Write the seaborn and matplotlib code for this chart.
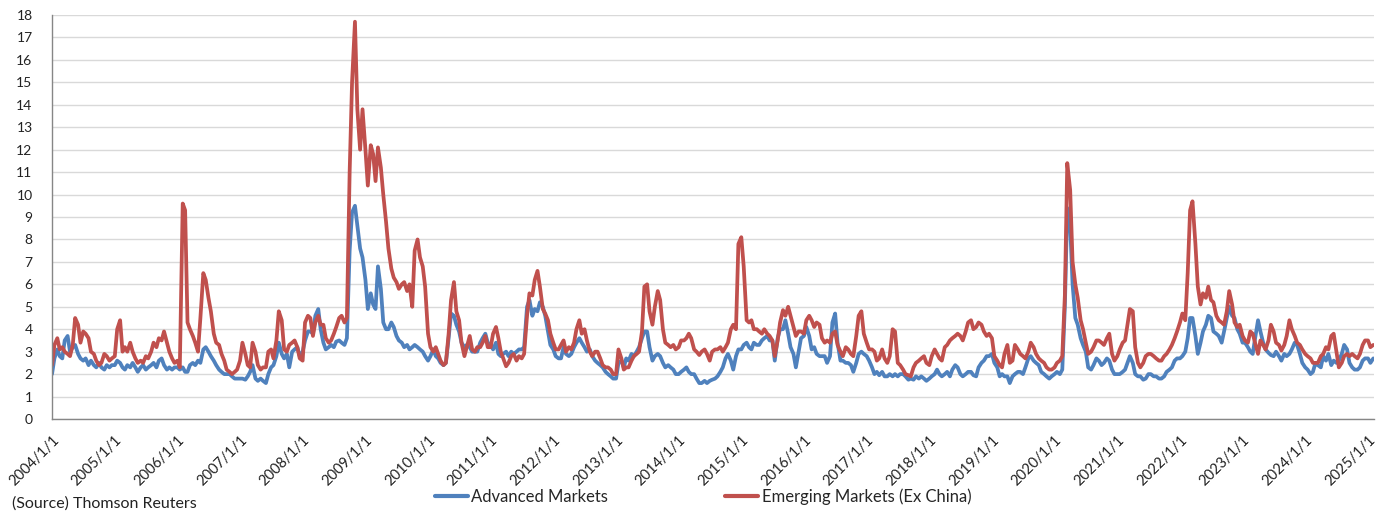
import matplotlib
matplotlib.use("Agg")
import matplotlib.pyplot as plt
import matplotlib.dates as mdates
from matplotlib.lines import Line2D
import seaborn as sns
import pandas as pd

# values, two per month (1st and 15th), 2004/1 - 2025/2
advanced = [
    2.0, 2.7, 3.1, 2.8, 2.7, 3.5, 3.7, 3.0, 3.2, 3.3, 2.9, 2.7, 2.6, 2.7, 2.4, 2.6, 2.4, 2.3, 2.5, 2.3, 2.2, 2.4, 2.3, 2.4,  # 2004
    2.4, 2.6, 2.5, 2.3, 2.2, 2.4, 2.3, 2.5, 2.3, 2.1, 2.3, 2.4, 2.2, 2.3, 2.4, 2.5, 2.3, 2.6, 2.7, 2.4, 2.2, 2.3, 2.2, 2.3,  # 2005
    2.3, 2.2, 2.3, 2.1, 2.1, 2.4, 2.5, 2.4, 2.6, 2.5, 3.1, 3.2, 3.0, 2.8, 2.6, 2.4, 2.2, 2.1, 2.0, 2.0, 2.0, 1.9, 1.8, 1.8,  # 2006
    1.8, 1.8, 1.75, 1.9, 2.1, 2.4, 1.8, 1.7, 1.8, 1.7, 1.6, 2.0, 2.3, 2.4, 2.8, 3.4, 2.9, 2.7, 2.9, 2.3, 3.0, 3.1, 3.2, 2.8,  # 2007
    3.0, 3.5, 3.9, 3.9, 3.8, 4.6, 4.9, 4.0, 3.4, 3.1, 3.2, 3.3, 3.2, 3.45, 3.5, 3.4, 3.3, 3.6, 7.5, 9.2, 9.5, 8.6, 7.6, 7.2,  # 2008
    6.2, 4.9, 5.6, 5.1, 4.9, 6.8, 5.8, 4.3, 4.0, 4.0, 4.3, 4.1, 3.7, 3.5, 3.4, 3.2, 3.3, 3.1, 3.2, 3.3, 3.2, 3.1, 3.0, 2.8,  # 2009
    2.6, 2.8, 3.1, 2.8, 2.7, 2.5, 2.4, 2.5, 3.6, 4.7, 4.6, 4.2, 3.9, 3.4, 3.2, 3.3, 3.2, 3.0, 3.0, 3.0, 3.4, 3.6, 3.8, 3.4,  # 2010
    3.3, 3.1, 3.4, 2.9, 2.8, 2.9, 3.0, 2.8, 3.0, 2.9, 3.0, 3.1, 3.1, 3.2, 5.0, 5.3, 4.6, 4.9, 4.8, 5.2, 5.0, 4.6, 3.9, 3.3,  # 2011
    3.1, 2.8, 2.7, 2.7, 3.2, 2.9, 2.8, 2.9, 3.2, 3.4, 3.6, 3.4, 3.2, 3.0, 3.1, 2.8, 2.6, 2.5, 2.4, 2.3, 2.1, 2.0, 1.9, 1.8,  # 2012
    1.8, 2.5, 2.6, 2.3, 2.7, 2.6, 2.9, 2.8, 3.0, 3.2, 3.6, 3.9, 3.9, 3.2, 2.6, 2.8, 2.9, 2.8, 2.5, 2.3, 2.4, 2.3, 2.2, 2.0,  # 2013
    2.0, 2.1, 2.2, 2.3, 2.1, 2.0, 2.0, 1.8, 1.6, 1.6, 1.7, 1.6, 1.7, 1.75, 1.8, 1.9, 2.1, 2.3, 2.7, 2.9, 2.6, 2.2, 2.8, 3.1,  # 2014
    3.1, 3.3, 3.4, 3.2, 3.1, 3.4, 3.3, 3.3, 3.5, 3.6, 3.7, 3.5, 3.5, 2.6, 3.6, 4.0, 4.0, 4.4, 3.8, 3.2, 2.9, 2.3, 3.0, 3.6,  # 2015
    3.7, 4.1, 3.7, 3.1, 3.2, 2.9, 2.8, 2.8, 2.8, 2.5, 2.8, 4.3, 4.7, 3.4, 2.6, 2.6, 2.5, 2.5, 2.4, 2.1, 2.5, 2.9, 3.0, 2.9,  # 2016
    2.8, 2.6, 2.3, 2.0, 2.1, 1.95, 2.1, 1.9, 1.9, 2.0, 1.9, 2.0, 1.9, 2.0, 2.0, 1.9, 1.75, 1.8, 1.75, 1.9, 1.8, 1.9, 1.8, 1.7,  # 2017
    1.8, 1.9, 2.0, 2.2, 2.0, 1.9, 2.0, 2.1, 1.9, 2.2, 2.4, 2.3, 2.0, 1.9, 2.0, 2.1, 2.1, 1.95, 1.9, 2.3, 2.5, 2.6, 2.8, 2.8,  # 2018
    2.9, 2.5, 2.3, 1.9, 2.0, 1.9, 1.9, 1.6, 1.9, 2.0, 2.1, 2.1, 2.0, 2.3, 2.7, 2.8, 2.6, 2.5, 2.4, 2.1, 2.0, 1.9, 1.8, 1.9,  # 2019
    2.0, 2.1, 2.0, 2.2, 5.0, 9.4, 8.6, 6.0, 4.5, 4.2, 3.6, 3.3, 3.0, 2.3, 2.2, 2.4, 2.7, 2.6, 2.4, 2.5, 2.7, 2.6, 2.2, 2.0,  # 2020
    2.0, 2.0, 2.1, 2.2, 2.5, 2.8, 2.5, 2.0, 1.9, 1.9, 1.75, 1.8, 2.0, 2.0, 1.9, 1.9, 1.8, 1.8, 1.9, 2.1, 2.2, 2.3, 2.6, 2.7,  # 2021
    2.7, 2.8, 3.0, 3.6, 4.5, 4.5, 3.7, 2.9, 3.4, 3.9, 4.2, 4.6, 4.5, 3.9, 3.8, 3.7, 3.4, 3.9, 4.5, 5.0, 4.6, 4.5, 4.0, 3.8,  # 2022
    3.4, 3.4, 3.2, 3.0, 2.9, 3.6, 4.4, 3.9, 3.4, 3.1, 2.95, 2.85, 2.8, 3.0, 2.8, 2.6, 2.9, 2.8, 2.9, 3.1, 3.4, 3.3, 2.9, 2.5,  # 2023
    2.3, 2.2, 2.0, 2.1, 2.5, 2.4, 2.3, 2.8, 2.6, 2.9, 2.4, 2.6, 2.5, 2.6, 2.9, 3.3, 3.1, 2.5, 2.3, 2.2, 2.2, 2.3, 2.6, 2.7,  # 2024
    2.7, 2.5, 2.7,  # 2025
]

emerging = [
    2.4, 3.3, 3.6, 3.1, 3.2, 3.0, 2.9, 2.8, 3.3, 4.5, 4.2, 3.4, 3.9, 3.8, 3.6, 3.0, 2.9, 2.6, 2.4, 2.5, 2.9, 2.8, 2.6, 2.7,  # 2004
    2.8, 4.0, 4.4, 3.0, 3.2, 3.0, 3.4, 3.0, 2.7, 2.5, 2.6, 2.5, 2.8, 2.7, 3.0, 3.4, 3.2, 3.6, 3.5, 3.9, 3.4, 3.0, 2.7, 2.5,  # 2005
    2.6, 2.3, 9.6, 9.3, 4.3, 4.0, 3.7, 3.4, 3.0, 4.5, 6.5, 6.2, 5.4, 4.8, 3.8, 3.4, 3.3, 2.9, 2.6, 2.2, 2.1, 2.0, 2.1, 2.2,  # 2006
    2.6, 3.4, 2.9, 2.4, 2.3, 3.4, 3.0, 2.4, 2.2, 2.3, 2.3, 3.0, 3.1, 2.7, 3.5, 4.8, 4.4, 3.1, 3.0, 3.3, 3.4, 3.5, 3.2, 2.7,  # 2007
    2.6, 4.3, 4.6, 4.5, 3.7, 4.3, 4.6, 4.2, 4.2, 3.6, 3.4, 3.5, 3.8, 4.1, 4.5, 4.6, 4.3, 4.5, 11.0, 15.0, 17.7, 13.8, 12.0, 13.8,  # 2008
    12.0, 10.4, 12.2, 11.8, 10.6, 12.1, 11.2, 10.0, 8.8, 7.6, 6.7, 6.3, 6.1, 5.8, 6.0, 6.1, 5.7, 6.0, 5.0, 7.5, 8.0, 7.2, 6.8, 5.9,  # 2009
    3.8, 3.2, 3.0, 3.2, 2.9, 2.6, 2.4, 2.5, 3.8, 5.3, 6.1, 4.8, 4.4, 3.4, 2.8, 3.2, 3.7, 3.1, 3.0, 3.2, 3.2, 3.4, 3.7, 3.2,  # 2010
    3.2, 3.8, 4.1, 3.6, 3.0, 2.7, 2.35, 2.5, 2.8, 2.9, 2.6, 2.8, 2.7, 2.9, 4.6, 5.6, 5.5, 6.2, 6.6, 5.9, 4.9, 4.7, 4.4, 3.8,  # 2011
    3.4, 3.1, 3.1, 3.3, 3.5, 3.0, 3.2, 3.1, 3.4, 4.0, 4.4, 3.8, 4.0, 3.5, 3.0, 2.8, 3.0, 3.0, 2.7, 2.4, 2.3, 2.3, 2.2, 2.0,  # 2012
    2.0, 3.1, 2.7, 2.2, 2.3, 2.3, 2.6, 2.8, 2.9, 3.0, 3.9, 5.9, 6.0, 4.8, 4.2, 5.0, 5.7, 5.3, 4.0, 3.4, 3.3, 3.2, 3.3, 3.1,  # 2013
    3.2, 3.5, 3.5, 3.6, 3.8, 3.6, 3.1, 3.0, 2.85, 3.0, 3.1, 2.9, 2.6, 3.0, 3.1, 3.1, 3.2, 3.0, 3.2, 3.4, 4.0, 4.2, 4.0, 7.8,  # 2014
    8.1, 6.8, 4.4, 4.3, 4.4, 4.0, 4.0, 3.9, 3.8, 4.0, 3.8, 3.7, 3.5, 2.8, 3.5, 4.3, 4.85, 4.6, 5.0, 4.6, 4.1, 3.7, 3.9, 3.9,  # 2015
    3.8, 4.4, 4.6, 4.4, 4.1, 4.3, 4.2, 3.6, 3.4, 3.5, 3.4, 3.8, 3.9, 3.3, 3.0, 2.8, 3.2, 3.1, 2.9, 2.8, 3.7, 4.6, 4.8, 3.8,  # 2016
    3.4, 3.1, 3.1, 3.0, 2.6, 2.7, 3.1, 2.7, 2.5, 2.8, 4.0, 3.9, 2.5, 2.4, 2.2, 2.0, 1.95, 1.9, 2.3, 2.5, 2.6, 2.7, 2.8, 2.5,  # 2017
    2.4, 2.8, 3.1, 2.9, 2.7, 2.6, 3.2, 3.3, 3.5, 3.6, 3.7, 3.8, 3.7, 3.5, 3.9, 4.3, 4.4, 4.0, 4.1, 4.3, 4.2, 3.9, 3.7, 3.8,  # 2018
    3.6, 2.8, 2.6, 2.4, 2.3, 2.9, 3.3, 2.5, 2.6, 3.3, 3.1, 2.9, 2.8, 2.7, 3.0, 3.4, 3.2, 2.9, 2.7, 2.6, 2.5, 2.3, 2.2, 2.2,  # 2019
    2.3, 2.5, 2.6, 2.8, 5.5, 11.4, 10.2, 7.0, 6.0, 5.4, 4.4, 4.0, 3.4, 2.9, 3.0, 3.2, 3.5, 3.5, 3.4, 3.3, 3.6, 3.8, 2.9, 2.6,  # 2020
    2.8, 3.1, 3.4, 3.5, 4.2, 4.9, 4.8, 3.2, 2.5, 2.3, 2.5, 2.8, 2.9, 2.9, 2.8, 2.7, 2.6, 2.6, 2.8, 2.9, 3.1, 3.3, 3.6, 3.9,  # 2021
    4.3, 4.7, 4.4, 6.5, 9.3, 9.7, 7.8, 5.9, 5.1, 5.6, 5.4, 5.9, 5.3, 5.2, 4.6, 4.4, 4.3, 4.2, 4.8, 5.7, 5.1, 4.3, 4.1, 4.2,  # 2022
    3.7, 3.5, 3.4, 3.9, 3.8, 3.4, 2.9, 3.5, 3.3, 3.1, 3.5, 4.2, 3.9, 3.4, 3.3, 3.05, 3.3, 3.7, 4.4, 4.0, 3.7, 3.4, 3.3, 3.1,  # 2023
    2.9, 2.8, 2.7, 2.5, 2.5, 2.5, 2.8, 2.9, 3.2, 3.1, 3.7, 3.8, 3.0, 2.3, 2.5, 2.8, 2.9, 2.8, 2.9, 2.8, 2.7, 2.9, 3.3, 3.5,  # 2024
    3.5, 3.2, 3.3,  # 2025
]

series_names = ["Advanced Markets", "Emerging Markets (Ex China)"]
series_colors = ["#4F81BD", "#C0504D"]
y_ticks = list(range(0, 19))
source_note = "(Source) Thomson Reuters"

dates = pd.date_range("2004-01-01", periods=len(advanced), freq="SMS")
df = pd.DataFrame({"date": dates, series_names[0]: advanced, series_names[1]: emerging})
long_df = df.melt(id_vars="date", var_name="series", value_name="value")

sns.set_style("white")
plt.rcParams["font.family"] = ["Lato", "DejaVu Sans"]

W, H = 1386, 511
fig = plt.figure(figsize=(W / 100, H / 100), dpi=100)
ax = fig.add_axes([52 / W, 1 - 419 / H, (1374 - 52) / W, (419 - 15) / H])

sns.lineplot(data=long_df, x="date", y="value", hue="series", hue_order=series_names,
             palette=series_colors, linewidth=2.7, ax=ax, legend=False)

ax.set_xlim(pd.Timestamp("2004-01-01"), pd.Timestamp("2025-02-05"))
ax.set_ylim(0, 18)
ax.set_yticks(y_ticks)
ax.yaxis.grid(True, color="#D9D9D9", linewidth=1.0)
ax.xaxis.grid(False)
ax.set_axisbelow(True)
ax.set_xlabel("")
ax.set_ylabel("")

for side in ["top", "right"]:
    ax.spines[side].set_visible(False)
for side in ["left", "bottom"]:
    ax.spines[side].set_color("#868686")
    ax.spines[side].set_linewidth(1.0)

ax.xaxis.set_major_locator(mdates.YearLocator())
ax.xaxis.set_major_formatter(
    plt.FuncFormatter(lambda v, pos: f"{mdates.num2date(v).year}/1/1"))
ax.tick_params(axis="y", length=5, color="#868686", pad=9, labelsize=10, labelcolor="#222222")
ax.tick_params(axis="x", length=6, color="#868686", pad=4, labelsize=10.5, labelcolor="#222222")
for lab in ax.get_xticklabels():
    lab.set_rotation(45)
    lab.set_ha("right")
    lab.set_va("top")
    lab.set_rotation_mode("anchor")

handles = [Line2D([0], [0], color=c, linewidth=3) for c in series_colors]
fig.legend(handles, series_names, loc="center", bbox_to_anchor=(703 / W, 1 - 497 / H),
           ncol=2, frameon=False, fontsize=12, handlelength=2.0, handletextpad=0.2,
           columnspacing=7.0)

fig.text(12 / W, 1 - 496 / H, source_note, ha="left", va="top", fontsize=11.5, color="#222222")

fig.savefig("out.png", dpi=100)
